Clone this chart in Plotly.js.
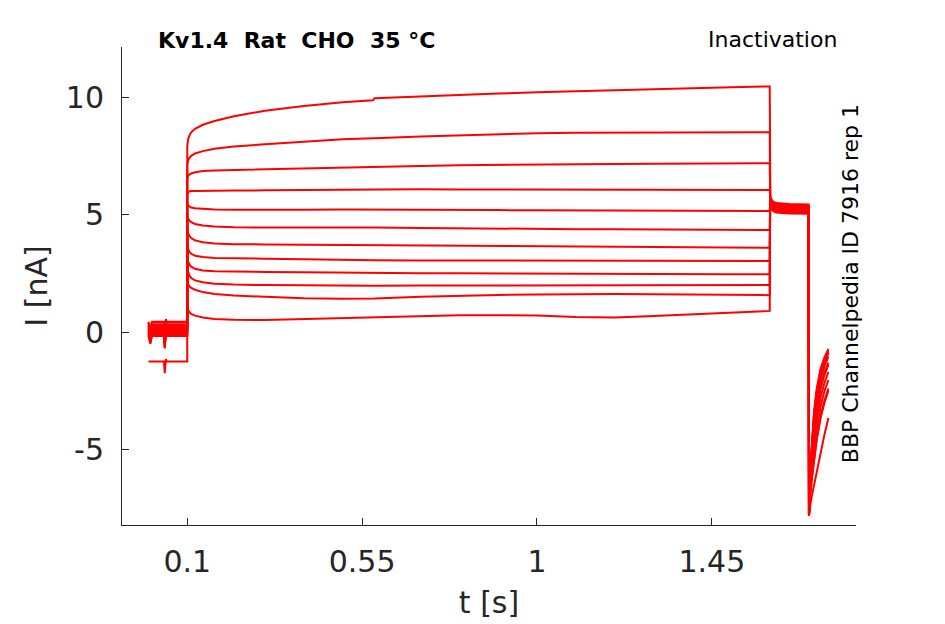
<!DOCTYPE html>
<html>
<head>
<meta charset="utf-8">
<script src="https://cdn.plot.ly/plotly-3.0.1.min.js"></script>
<style>html,body{margin:0;padding:0;background:#fff;}#chart{width:945px;height:624px;}</style>
</head>
<body>
<div id="chart"></div>
<script>
// time samples (s) for each protocol segment
const tPre  = [0, 0.005, 0.009, 0.04, 0.042, 0.045, 0.047, 0.0999];
const tStep = [0.1, 0.1005, 0.102, 0.105, 0.11, 0.12, 0.14, 0.17, 0.22, 0.3, 0.4, 0.5, 0.578, 0.582, 0.7, 0.8, 0.9, 1.0, 1.1, 1.2, 1.3, 1.4, 1.5, 1.599];
const tTest = [1.6, 1.6005, 1.602, 1.606, 1.615, 1.65, 1.699];
const tTail = [1.7, 1.701, 1.703, 1.707, 1.713, 1.72, 1.73, 1.74, 1.75];

// current (nA) per sweep, prepulse segment
const iPre = [
  [-1.25, -1.25, -1.25, -1.25, -1.75, -1.15, -1.25, -1.25],
  [0.44, 0.1, 0.44, 0.44, -0.1, 0.55, 0.44, 0.44],
  [0.4, 0.05, 0.4, 0.4, -0.15, 0.5, 0.4, 0.4],
  [0.3, -0.05, 0.3, 0.3, -0.25, 0.42, 0.3, 0.3],
  [0.25, -0.1, 0.25, 0.25, -0.3, 0.37, 0.25, 0.25],
  [0.17, -0.2, 0.17, 0.17, -0.38, 0.3, 0.17, 0.17],
  [0.12, -0.25, 0.12, 0.12, -0.42, 0.25, 0.12, 0.12],
  [0.05, -0.3, 0.05, 0.05, -0.5, 0.18, 0.05, 0.05],
  [0.0, -0.35, 0.0, 0.0, -0.55, 0.12, 0.0, 0.0],
  [-0.05, -0.4, -0.05, -0.05, -0.6, 0.08, -0.05, -0.05],
  [-0.12, -0.45, -0.12, -0.12, -0.65, 0.0, -0.12, -0.12],
  [-0.17, -0.5, -0.17, -0.17, -0.7, -0.05, -0.17, -0.17]
];

// conditioning step segment
const iStep = [
  [7.9, 8.05, 8.2, 8.35, 8.5, 8.65, 8.82, 8.98, 9.18, 9.42, 9.62, 9.78, 9.86, 9.95, 10.03, 10.1, 10.15, 10.2, 10.25, 10.3, 10.34, 10.38, 10.42, 10.45],
  [7.1, 7.2, 7.3, 7.4, 7.5, 7.6, 7.7, 7.8, 7.9, 7.99, 8.1, 8.2, 8.25, 8.25, 8.32, 8.37, 8.42, 8.46, 8.48, 8.49, 8.5, 8.5, 8.5, 8.5],
  [6.5, 6.6, 6.65, 6.7, 6.75, 6.8, 6.85, 6.88, 6.9, 6.93, 6.98, 7.02, 7.04, 7.04, 7.07, 7.1, 7.12, 7.13, 7.14, 7.15, 7.16, 7.17, 7.18, 7.18],
  [5.8, 5.9, 5.95, 5.98, 6.0, 6.0, 6.01, 6.02, 6.02, 6.03, 6.05, 6.07, 6.08, 6.08, 6.08, 6.07, 6.07, 6.06, 6.06, 6.05, 6.05, 6.04, 6.04, 6.04],
  [5.5, 5.45, 5.4, 5.35, 5.3, 5.27, 5.24, 5.22, 5.2, 5.19, 5.2, 5.22, 5.22, 5.22, 5.21, 5.2, 5.19, 5.18, 5.17, 5.17, 5.16, 5.16, 5.15, 5.15],
  [5.0, 4.9, 4.82, 4.75, 4.68, 4.6, 4.53, 4.49, 4.46, 4.45, 4.46, 4.46, 4.45, 4.45, 4.43, 4.41, 4.4, 4.39, 4.38, 4.37, 4.36, 4.35, 4.34, 4.34],
  [4.5, 4.35, 4.22, 4.1, 4.0, 3.9, 3.82, 3.77, 3.74, 3.73, 3.72, 3.7, 3.69, 3.69, 3.67, 3.66, 3.65, 3.64, 3.63, 3.62, 3.61, 3.6, 3.59, 3.59],
  [3.9, 3.7, 3.55, 3.42, 3.33, 3.25, 3.19, 3.15, 3.13, 3.12, 3.1, 3.07, 3.06, 3.06, 3.05, 3.05, 3.04, 3.04, 3.03, 3.03, 3.03, 3.02, 3.02, 3.02],
  [3.4, 3.2, 3.02, 2.88, 2.78, 2.69, 2.62, 2.59, 2.57, 2.56, 2.54, 2.52, 2.51, 2.51, 2.5, 2.5, 2.49, 2.49, 2.48, 2.48, 2.47, 2.47, 2.46, 2.46],
  [3.0, 2.75, 2.57, 2.42, 2.3, 2.2, 2.12, 2.06, 2.02, 2.0, 1.98, 1.97, 1.97, 1.97, 1.98, 1.98, 1.99, 1.99, 2.0, 2.0, 2.0, 2.0, 2.0, 2.0],
  [2.5, 2.25, 2.05, 1.95, 1.88, 1.8, 1.7, 1.62, 1.56, 1.5, 1.44, 1.42, 1.43, 1.43, 1.5, 1.55, 1.58, 1.6, 1.62, 1.62, 1.61, 1.6, 1.58, 1.57],
  [1.3, 1.1, 0.95, 0.85, 0.77, 0.7, 0.62, 0.56, 0.52, 0.51, 0.55, 0.6, 0.64, 0.64, 0.7, 0.72, 0.72, 0.7, 0.64, 0.62, 0.68, 0.75, 0.82, 0.9]
];

// test pulse segment
const iTest = [
  [5.85, 5.8, 5.7, 5.57, 5.49, 5.45, 5.43],
  [5.8, 5.75, 5.65, 5.52, 5.44, 5.4, 5.38],
  [5.78, 5.73, 5.63, 5.5, 5.42, 5.38, 5.36],
  [5.75, 5.7, 5.6, 5.47, 5.39, 5.35, 5.33],
  [5.7, 5.65, 5.55, 5.42, 5.34, 5.3, 5.28],
  [5.68, 5.63, 5.53, 5.4, 5.32, 5.28, 5.26],
  [5.65, 5.6, 5.5, 5.37, 5.29, 5.25, 5.23],
  [5.6, 5.55, 5.45, 5.32, 5.24, 5.2, 5.18],
  [5.58, 5.53, 5.43, 5.3, 5.22, 5.18, 5.16],
  [5.55, 5.5, 5.4, 5.27, 5.19, 5.15, 5.13],
  [5.5, 5.45, 5.35, 5.22, 5.14, 5.1, 5.08],
  [5.45, 5.4, 5.3, 5.17, 5.09, 5.05, 5.03]
];

// tail segment
const iTail = [
  [-7.8, -7.0, -6.0, -4.8, -3.4, -2.4, -1.55, -1.08, -0.72],
  [-7.8, -7.05, -6.05, -4.9, -3.5, -2.5, -1.62, -1.14, -0.78],
  [-7.8, -7.1, -6.1, -5.0, -3.6, -2.6, -1.7, -1.22, -0.85],
  [-7.8, -7.1, -6.15, -5.05, -3.7, -2.7, -1.8, -1.3, -0.92],
  [-7.8, -7.15, -6.25, -5.2, -3.9, -2.9, -1.98, -1.45, -1.06],
  [-7.8, -7.2, -6.4, -5.45, -4.2, -3.2, -2.25, -1.7, -1.3],
  [-7.8, -7.25, -6.5, -5.55, -4.35, -3.35, -2.4, -1.82, -1.4],
  [-7.8, -7.3, -6.65, -5.8, -4.7, -3.7, -2.75, -2.15, -1.7],
  [-7.8, -7.35, -6.8, -6.0, -5.0, -4.1, -3.15, -2.5, -2.04],
  [-7.8, -7.4, -6.95, -6.25, -5.35, -4.5, -3.55, -2.9, -2.4],
  [-7.8, -7.45, -7.0, -6.3, -5.45, -4.6, -3.65, -3.0, -2.5],
  [-7.8, -7.6, -7.4, -7.0, -6.5, -5.95, -5.1, -4.35, -3.66]
];

const xTickVals = [0.1, 0.55, 1, 1.45];
const xTickText = ['0.1', '0.55', '1', '1.45'];
const yTickVals = [-5, 0, 5, 10];
const yTickText = ['-5', '0', '5', '10'];

const tAll = tPre.concat(tStep, tTest, tTail);
const traces = iPre.map((p, k) => ({
  type: 'scatter', mode: 'lines',
  x: tAll,
  y: p.concat(iStep[k], iTest[k], iTail[k]),
  line: {color: '#ff0000', width: 2},
  hoverinfo: 'skip', showlegend: false
}));

const axisColor = '#262626';
const layout = {
  width: 945, height: 624,
  paper_bgcolor: '#ffffff', plot_bgcolor: '#ffffff',
  margin: {l: 122, r: 89, t: 47, b: 99},
  font: {family: 'DejaVu Sans', color: axisColor},
  showlegend: false,
  xaxis: {
    range: [-0.068, 1.821], showgrid: false, zeroline: false,
    showline: true, linecolor: axisColor, linewidth: 1,
    ticks: 'inside', ticklen: 7, tickcolor: axisColor,
    tickvals: xTickVals, ticktext: xTickText,
    tickfont: {size: 30, color: axisColor, family: 'DejaVu Sans'},
    ticklabelstandoff: 10,
    title: {text: 't [s]', font: {size: 30, color: axisColor, family: 'DejaVu Sans'}, standoff: 13}
  },
  yaxis: {
    range: [-8.21, 12.13], showgrid: false, zeroline: false,
    showline: true, linecolor: axisColor, linewidth: 1,
    ticks: 'inside', ticklen: 7, tickcolor: axisColor,
    tickvals: yTickVals, ticktext: yTickText,
    tickfont: {size: 30, color: axisColor, family: 'DejaVu Sans'},
    ticklabelstandoff: 11,
    title: {text: 'I [nA]', font: {size: 30, color: axisColor, family: 'DejaVu Sans'}, standoff: 9}
  },
  annotations: [
    {text: '<b>Kv1.4  Rat  CHO  35 °C</b>', xref: 'paper', yref: 'paper',
     x: 0.047, y: 1.0146, xanchor: 'left', yanchor: 'middle', showarrow: false,
     font: {size: 22, color: '#000000', family: 'DejaVu Sans'}},
    {text: 'Inactivation', xref: 'paper', yref: 'paper',
     x: 0.9765, y: 1.0167, xanchor: 'right', yanchor: 'middle', showarrow: false,
     font: {size: 22, color: '#000000', family: 'DejaVu Sans'}},
    {text: 'BBP Channelpedia ID 7916 rep 1', xref: 'paper', yref: 'paper',
     x: 0.992, y: 0.504, xanchor: 'center', yanchor: 'middle', textangle: -90, showarrow: false,
     font: {size: 22, color: '#000000', family: 'DejaVu Sans'}}
  ]
};

Plotly.newPlot('chart', traces, layout, {staticPlot: true, displayModeBar: false});
</script>
</body>
</html>
